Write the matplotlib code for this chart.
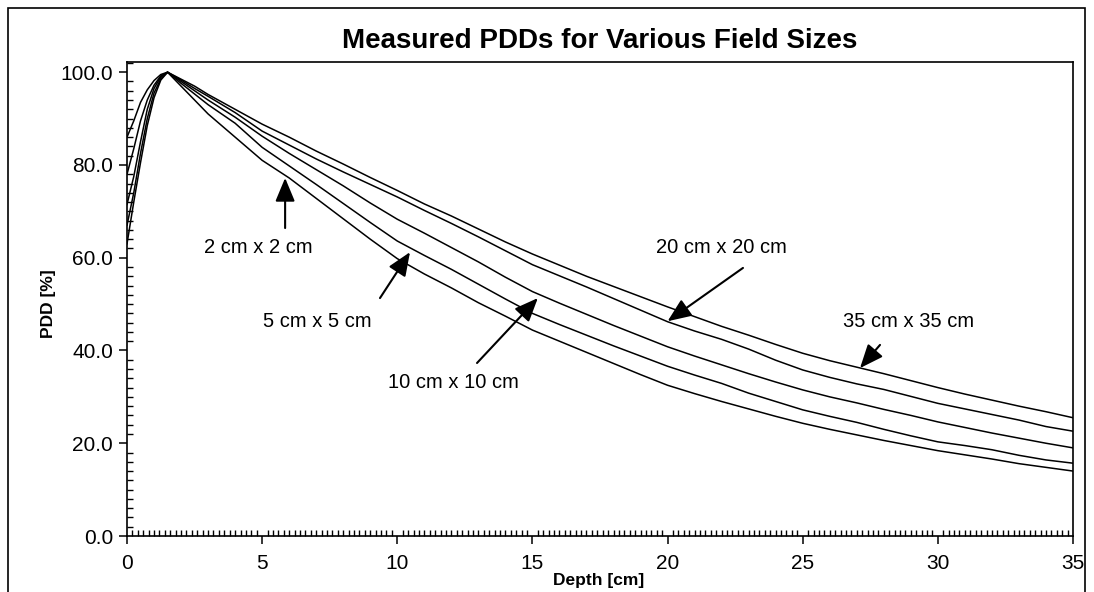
import numpy as np
import matplotlib
matplotlib.use("Agg")
import matplotlib.pyplot as plt
from matplotlib.patches import Rectangle
from matplotlib.ticker import MultipleLocator, FormatStrFormatter

plt.rcParams['font.family'] = ['Liberation Sans', 'DejaVu Sans']

# depth grid [cm]
depth = [0, 0.25, 0.5, 0.75, 1.0, 1.25, 1.5, 2, 2.5, 3, 4, 5, 6, 7, 8, 9, 10,
         11, 12, 13, 14, 15, 16, 17, 18, 19, 20, 21, 22, 23, 24, 25, 26, 27,
         28, 29, 30, 31, 32, 33, 34, 35]

# PDD [%], per field size
pdd_35 = [86.0, 89.5, 93.5, 96.2, 98.2, 99.5, 100.0, 98.5, 97.0, 95.2, 92.0, 88.8,
          86.0, 83.0, 80.2, 77.3, 74.5, 71.6, 69.0, 66.2, 63.4, 60.8, 58.4, 56.0,
          53.8, 51.6, 49.4, 47.3, 45.2, 43.3, 41.3, 39.4, 37.8, 36.4, 35.0, 33.5,
          32.0, 30.6, 29.3, 28.0, 26.8, 25.5]
pdd_20 = [78.0, 83.5, 89.5, 94.0, 97.2, 99.2, 100.0, 98.3, 96.5, 94.8, 91.3, 87.3,
          84.3, 81.3, 78.5, 75.8, 73.1, 70.2, 67.4, 64.5, 61.5, 58.5, 56.1, 53.7,
          51.2, 48.7, 46.2, 44.2, 42.4, 40.3, 37.9, 35.8, 34.2, 32.8, 31.6, 30.1,
          28.6, 27.4, 26.2, 25.0, 23.6, 22.6]
pdd_10 = [71.5, 77.5, 85.0, 92.0, 96.5, 99.0, 100.0, 98.0, 96.0, 94.0, 90.3, 86.2,
          82.5, 79.0, 75.5, 71.8, 68.3, 65.3, 62.2, 59.1, 55.8, 52.7, 50.2, 47.8,
          45.4, 43.1, 40.8, 38.8, 36.9, 35.0, 33.2, 31.5, 30.0, 28.7, 27.3, 26.0,
          24.6, 23.4, 22.2, 21.1, 20.0, 19.0]
pdd_5 = [67.0, 74.0, 82.5, 90.0, 95.5, 98.6, 100.0, 97.6, 95.3, 93.0, 89.0, 83.8,
         79.8, 75.8, 71.7, 67.6, 63.6, 60.5, 57.5, 54.3, 51.1, 48.0, 45.6, 43.3,
         41.0, 38.8, 36.6, 34.7, 32.9, 30.8, 29.0, 27.2, 25.8, 24.5, 23.0, 21.6,
         20.3, 19.5, 18.6, 17.4, 16.4, 15.7]
pdd_2 = [63.0, 72.0, 80.5, 88.5, 94.5, 98.3, 100.0, 97.0, 94.0, 91.0, 86.0, 81.0,
         77.2, 72.8, 68.4, 64.0, 59.8, 56.5, 53.5, 50.3, 47.4, 44.4, 42.0, 39.6,
         37.2, 34.8, 32.5, 30.7, 29.0, 27.4, 25.8, 24.3, 23.0, 21.8, 20.6, 19.5,
         18.4, 17.5, 16.6, 15.6, 14.8, 14.0]

labels = ["2 cm x 2 cm", "5 cm x 5 cm", "10 cm x 10 cm", "20 cm x 20 cm", "35 cm x 35 cm"]
label_xy = [(4.85, 62.1), (7.03, 46.3), (12.06, 33.0), (21.98, 62.1), (28.9, 46.3)]
arrow_from = [(5.85, 66.4), (9.36, 51.3), (12.95, 37.3), (22.79, 57.8), (27.86, 41.2)]
arrow_to = [(5.85, 77.2), (10.47, 61.2), (15.2, 51.3), (20.0, 46.3), (27.12, 36.2)]

fig = plt.figure(figsize=(10.94, 5.92), dpi=100)
ax = fig.add_axes([127 / 1094, 1 - 536 / 592, 946 / 1094, 474 / 592])

for p in [pdd_35, pdd_20, pdd_10, pdd_5, pdd_2]:
    ax.plot(depth, p, color='black', lw=1.1)

for lab, xy in zip(labels, label_xy):
    ax.text(xy[0], xy[1], lab, ha='center', va='center', fontsize=14.5)
for a, b in zip(arrow_from, arrow_to):
    ax.annotate('', xy=b, xytext=a,
                arrowprops=dict(arrowstyle='-|>,head_length=0.6,head_width=0.25',
                                color='black', lw=1.5,
                                mutation_scale=24, shrinkA=0, shrinkB=0))

ax.set_xlim(0, 35)
ax.set_ylim(0, 102.2)
ax.xaxis.set_major_locator(MultipleLocator(5))
ax.xaxis.set_minor_locator(MultipleLocator(0.2))
ax.yaxis.set_major_locator(MultipleLocator(20))
ax.yaxis.set_minor_locator(MultipleLocator(2))
ax.yaxis.set_major_formatter(FormatStrFormatter('%.1f'))
ax.tick_params(axis='both', which='major', direction='out', length=6, width=1.1,
               labelsize=15)
ax.tick_params(axis='x', which='major', pad=7)
ax.tick_params(axis='y', which='major', pad=4)
ax.tick_params(axis='both', which='minor', direction='in', length=4, width=1.0)
for s in ax.spines.values():
    s.set_linewidth(1.2)

fig.text(600 / 1094, 1 - 41 / 592, "Measured PDDs for Various Field Sizes",
         ha='center', va='center', fontsize=20, fontweight='bold')
fig.text(599 / 1094, 1 - 580 / 592, "Depth [cm]", ha='center', va='center',
         fontsize=12.5, fontweight='bold')
fig.text(48 / 1094, 1 - 304 / 592, "PDD [%]", ha='center', va='center',
         fontsize=12.5, fontweight='bold', rotation=90)

fig.patches.append(Rectangle((8 / 1094, -0.01), 1077 / 1094, 1.01 - 8 / 592,
                             transform=fig.transFigure, fill=False,
                             edgecolor='black', lw=1.2))

fig.savefig("out.png", dpi=100)
